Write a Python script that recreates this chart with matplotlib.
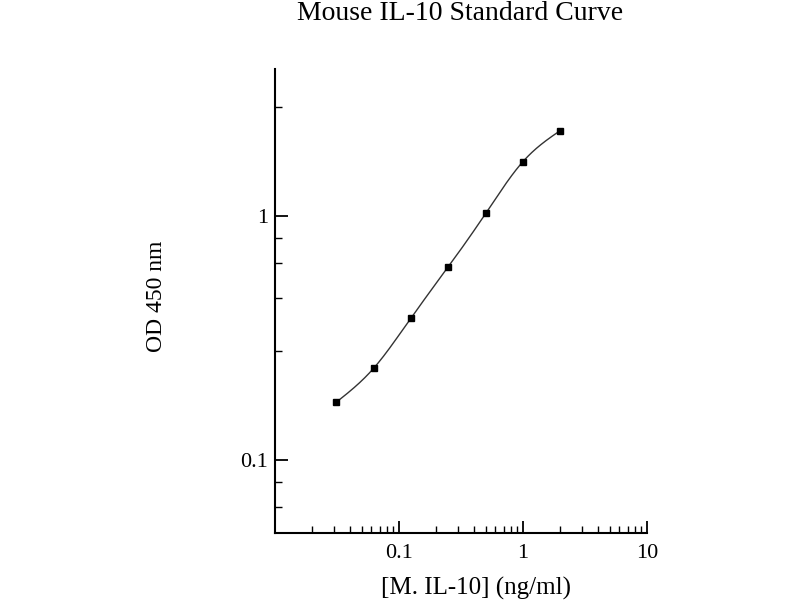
import numpy as np
import matplotlib
matplotlib.use("Agg")
import matplotlib.pyplot as plt
from matplotlib.ticker import FixedLocator, NullFormatter

# données
conc = [0.03125, 0.0625, 0.125, 0.25, 0.5, 1.0, 2.0]  # ng/ml
od = [0.172, 0.237, 0.381, 0.618, 1.022, 1.669, 2.237]  # OD 450 nm

x_ticks = [0.1, 1, 10]
x_labels = ["0.1", "1", "10"]
y_ticks = [0.1, 1]
y_labels = ["0.1", "1"]

plt.rcParams['font.family'] = ['Liberation Serif', 'DejaVu Serif']


# spline cubique naturelle dans l'espace log-log
def spline(xs, ys, xn):
  xs = np.asarray(xs); ys = np.asarray(ys)
  n = len(xs)
  h = np.diff(xs)
  A = np.zeros((n, n)); r = np.zeros(n)
  A[0, 0] = 1; A[-1, -1] = 1
  for i in range(1, n - 1):
    A[i, i - 1] = h[i - 1]
    A[i, i] = 2 * (h[i - 1] + h[i])
    A[i, i + 1] = h[i]
    r[i] = 6 * ((ys[i + 1] - ys[i]) / h[i] - (ys[i] - ys[i - 1]) / h[i - 1])
  M = np.linalg.solve(A, r)
  out = np.empty_like(xn)
  for k, x in enumerate(xn):
    i = min(max(np.searchsorted(xs, x) - 1, 0), n - 2)
    t1 = xs[i + 1] - x; t0 = x - xs[i]
    out[k] = (M[i] * t1**3 + M[i + 1] * t0**3) / (6 * h[i]) \
      + (ys[i] / h[i] - M[i] * h[i] / 6) * t1 \
      + (ys[i + 1] / h[i] - M[i + 1] * h[i] / 6) * t0
  return out


lx = np.log10(conc); ly = np.log10(od)
xx = np.linspace(lx[0], lx[-1], 300)
yy = spline(lx, ly, xx)

fig = plt.figure(figsize=(8, 6), dpi=100)
ax = fig.add_axes([0.34375, 0.1117, 0.465, 0.7733])

ax.plot(10**xx, 10**yy, '-', color='#333333', lw=1.0)
ax.plot(conc, od, 's', color='black', ms=5)

ax.set_xscale('log'); ax.set_yscale('log')
ax.set_xlim(0.01, 10)
ax.set_ylim(0.05, 4)

ax.spines['top'].set_visible(False)
ax.spines['right'].set_visible(False)
for s in ['left', 'bottom']:
  ax.spines[s].set_linewidth(1.5)

ax.xaxis.set_major_locator(FixedLocator(x_ticks))
ax.set_xticklabels(x_labels)
ax.xaxis.set_minor_locator(FixedLocator([m * d for d in [0.01, 0.1, 1] for m in range(2, 10)]))
ax.yaxis.set_major_locator(FixedLocator(y_ticks))
ax.set_yticklabels(y_labels)
ax.yaxis.set_minor_locator(FixedLocator([m * d for d in [0.1, 1, 10] for m in [0.28, 0.46, 0.64, 0.81]]))
ax.xaxis.set_minor_formatter(NullFormatter())
ax.yaxis.set_minor_formatter(NullFormatter())

ax.tick_params(which='major', direction='in', length=9, width=1.3, labelsize=16, pad=8, color='black')
ax.tick_params(which='minor', direction='in', length=5, width=1.0)
ax.tick_params(axis='y', which='major', pad=5)

ax.set_xlabel('[M. IL-10] (ng/ml)', fontsize=18)
ax.xaxis.set_label_coords(0.54, -0.095)
ax.set_ylabel('OD 450 nm', fontsize=17)
ax.yaxis.set_label_coords(-0.29, 0.51)

fig.text(460 / 800, 1 - 13 / 600, 'Mouse IL-10 Standard Curve', ha='center', va='center', fontsize=20)

fig.savefig('out.png', dpi=100)
